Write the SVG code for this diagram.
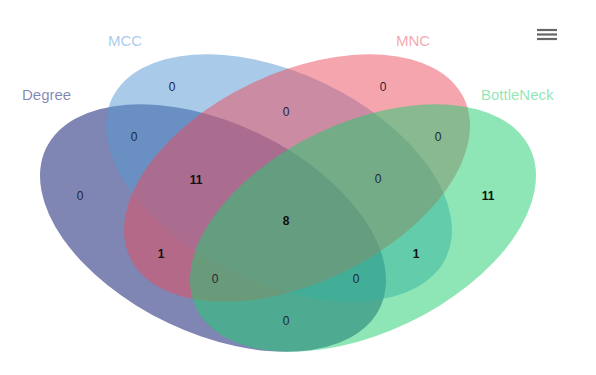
<svg xmlns="http://www.w3.org/2000/svg" width="596" height="375" viewBox="0 0 596 375">
<style>
.set{fill-opacity:0.5;stroke:none}
.lab{font-family:"Liberation Sans",Arial,sans-serif;font-size:15px;fill-opacity:0.5}
.n{font-family:"Liberation Sans",Arial,sans-serif;font-size:12px;text-anchor:middle;fill:#1e2538}
.b{font-weight:bold;fill:#111}
</style>
<rect width="596" height="375" fill="#ffffff"/>
<g id="degree">
<ellipse class="set" cx="213" cy="228" rx="185" ry="105" transform="rotate(25.5 213 228)" fill="#000d67"/>
<text class="lab" x="22" y="100" fill="#000d67">Degree</text>
</g>
<g id="mcc">
<ellipse class="set" cx="279" cy="178" rx="185" ry="105" transform="rotate(25.5 279 178)" fill="#5397d3"/>
<text class="lab" x="108" y="46" fill="#5397d3">MCC</text>
</g>
<g id="mnc">
<ellipse class="set" cx="297" cy="178" rx="185" ry="105" transform="rotate(-25.5 297 178)" fill="#eb4b5d"/>
<text class="lab" x="396" y="46" fill="#eb4b5d">MNC</text>
</g>
<g id="bottleneck">
<ellipse class="set" cx="363" cy="228" rx="185" ry="105" transform="rotate(-25.5 363 228)" fill="#1dcd6d"/>
<text class="lab" x="481" y="100" fill="#1dcd6d">BottleNeck</text>
</g>
<g id="counts">
<text class="n" x="80" y="200">0</text>
<text class="n" x="172" y="91">0</text>
<text class="n" x="383" y="91">0</text>
<text class="n b" x="488" y="200">11</text>
<text class="n" x="134" y="141">0</text>
<text class="n" x="286" y="116">0</text>
<text class="n" x="438" y="141">0</text>
<text class="n b" x="196" y="184">11</text>
<text class="n" x="378" y="183">0</text>
<text class="n b" x="286" y="225">8</text>
<text class="n b" x="161" y="258">1</text>
<text class="n b" x="416" y="258">1</text>
<text class="n" x="215" y="283">0</text>
<text class="n" x="356" y="283">0</text>
<text class="n" x="286" y="325">0</text>
</g>
<g id="connectors"></g>
<g id="menu" stroke="#666" stroke-width="2.2">
<line x1="537" y1="30" x2="557" y2="30"/>
<line x1="537" y1="34.5" x2="557" y2="34.5"/>
<line x1="537" y1="39" x2="557" y2="39"/>
</g>
</svg>
